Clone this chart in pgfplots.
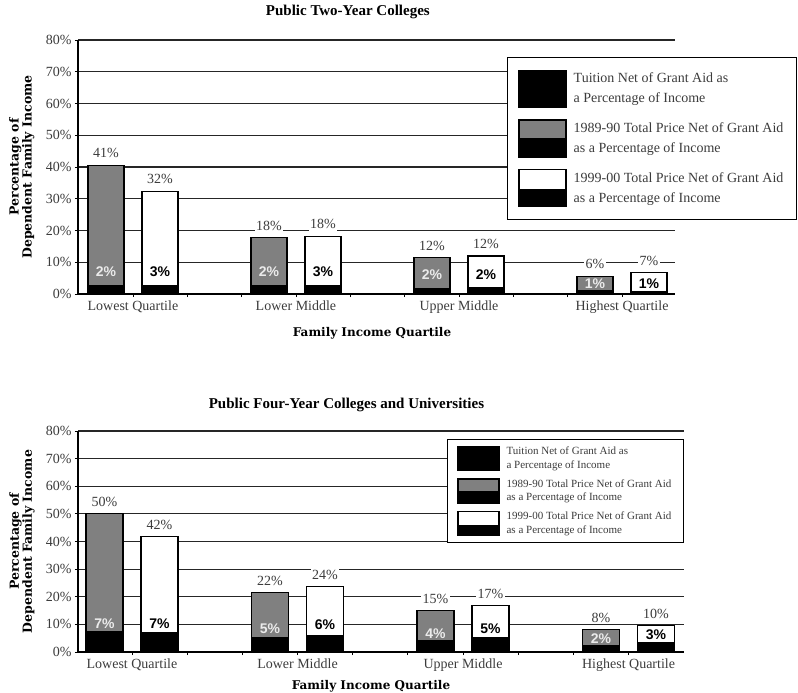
\documentclass[border=0pt]{standalone}
\usepackage{pgfplots}
\pgfplotsset{compat=1.18}
\usepackage{fontspec}
\setmainfont{Liberation Serif}
\newfontfamily\labfont{DejaVu Serif}
\newfontfamily\barfont{Liberation Sans}

\definecolor{barGray}{HTML}{808080}
\definecolor{txtGray}{HTML}{3C3C3C}

\pgfplotsset{
  quartile/.style={
    scale only axis, enlargelimits=false,
    ymin=0, ymax=80, ytick={0,10,...,80},
    yticklabels={0\%,10\%,20\%,30\%,40\%,50\%,60\%,70\%,80\%},
    xtick={0,1,2,3},
    xticklabels={Lowest Quartile,Lower Middle,Upper Middle,Highest Quartile},
    minor xtick={0.3333,0.6667,1.3333,1.6667,2.3333,2.6667},
    axis x line*=bottom, axis y line*=left,
    axis line style={-, line width=1.2pt, black},
    tick align=outside, major tick length=3pt, minor tick length=3pt,
    tick style={black, line width=0.8pt},
    ymajorgrids, major grid style={line width=1.2pt, black!85},
    tick label style={font=\fontsize{14}{16}\selectfont, text=txtGray},
    ylabel={Percentage of\\Dependent Family Income},
    xlabel={Family Income Quartile},
    ylabel style={font=\labfont\bfseries\fontsize{12.5}{13}\selectfont, align=center, anchor=center},
    xlabel style={font=\labfont\bfseries\fontsize{12}{14}\selectfont, anchor=center},
    title style={font=\bfseries\fontsize{15}{17}\selectfont, anchor=center},
    legend cell align=left,
  },
  % #1 = bar width, #2 = bar shift
  total/.style 2 args={ybar, bar width=#1, bar shift=#2, forget plot, draw=black, line width=1.2pt,
    nodes near coords, point meta=explicit symbolic,
    nodes near coords style={anchor=south, xshift=#2, yshift=5pt, fill=white, inner sep=1.5pt,
      font=\fontsize{14}{16}\selectfont, text=txtGray}},
  tuition/.style 2 args={ybar, bar width=#1, bar shift=#2, forget plot, fill=black, draw=black, line width=1.2pt},
  inner/.style={draw=none, forget plot, nodes near coords, point meta=explicit symbolic,
    nodes near coords style={anchor=center, xshift=#1,
      font=\barfont\bfseries\fontsize{14}{16}\selectfont}},
}

\begin{document}
\begin{tikzpicture}
\path[use as bounding box] (0pt,0pt) rectangle (798pt,-693pt);

% Public two-year colleges
\begin{axis}[quartile,
  at={(78pt,-294pt)}, anchor=south west,
  width=597pt, height=254pt,
  xmin=-0.337, xmax=3.325,
  title={Public Two-Year Colleges},
  title style={at={(axis description cs:0.452,1.087)}},
  ylabel style={at={(axis description cs:-0.094,0.5)}},
  xlabel style={at={(axis description cs:0.4925,-0.1535)}},
  legend style={at={(1.2044,0.9331)}, anchor=north east, draw=black, line width=1.2pt,
    fill=white, inner xsep=11pt, inner ysep=12pt, row sep=11.5pt, column sep=5pt,
    align=left, font=\fontsize{14}{20}\selectfont, text=txtGray},
]
\addplot[total={36pt}{-27pt}, fill=barGray]
  coordinates {(0,40.6)[41\%] (1,17.7)[18\%] (2,11.4)[12\%] (3,5.6)[6\%]};
\addplot[tuition={36pt}{-27pt}]
  coordinates {(0,2.6) (1,2.6) (2,1.8) (3,1.0)};
\addplot[total={36pt}{27pt}, fill=white]
  coordinates {(0,32.4)[32\%] (1,18.2)[18\%] (2,12.0)[12\%] (3,6.7)[7\%]};
\addplot[tuition={36pt}{27pt}]
  coordinates {(0,2.8) (1,2.8) (2,1.9) (3,0.7)};
\addplot[inner=-27pt, nodes near coords style={text=white!92!black}]
  coordinates {(0,7)[2\%] (1,7)[2\%] (2,6)[2\%] (3,3.2)[1\%]};
\addplot[inner=27pt, nodes near coords style={text=black}]
  coordinates {(0,7)[3\%] (1,7)[3\%] (2,6)[2\%] (3,3.2)[1\%]};

\addlegendimage{legend image code/.code={
  \fill[black] (0pt,-18.5pt) rectangle (47pt,18.5pt);}}
\addlegendentry{Tuition Net of Grant Aid as\\a Percentage of Income}
\addlegendimage{legend image code/.code={
  \fill[black] (0pt,-18.5pt) rectangle (47pt,1pt);
  \fill[barGray] (0pt,1pt) rectangle (47pt,18.5pt);
  \draw[line width=1.2pt] (0pt,-18.5pt) rectangle (47pt,18.5pt);}}
\addlegendentry{1989-90 Total Price Net of Grant Aid\\as a Percentage of Income}
\addlegendimage{legend image code/.code={
  \fill[black] (0pt,-18.5pt) rectangle (47pt,0pt);
  \fill[white] (0pt,0pt) rectangle (47pt,18.5pt);
  \draw[line width=1.2pt] (0pt,-18.5pt) rectangle (47pt,18.5pt);}}
\addlegendentry{1999-00 Total Price Net of Grant Aid\\as a Percentage of Income}
\end{axis}

% Public four-year colleges and universities
\begin{axis}[quartile,
  at={(78pt,-652pt)}, anchor=south west,
  width=606pt, height=221pt,
  xmin=-0.326, xmax=3.335,
  title={Public Four-Year Colleges and Universities},
  title style={at={(axis description cs:0.443,1.090)}},
  ylabel style={at={(axis description cs:-0.0924,0.5)}},
  xlabel style={at={(axis description cs:0.4835,-0.154)}},
  legend style={at={(1.0,0.9638)}, anchor=north east, draw=black, line width=1.2pt,
    fill=white, inner xsep=10pt, inner ysep=5.5pt, row sep=6pt, column sep=5pt,
    align=left, font=\fontsize{11}{13.3}\selectfont, text=txtGray},
]
\addplot[total={37pt}{-27.5pt}, fill=barGray]
  coordinates {(0,50.2)[50\%] (1,21.6)[22\%] (2,14.9)[15\%] (3,8.2)[8\%]};
\addplot[tuition={37pt}{-27.5pt}]
  coordinates {(0,7.4) (1,5.2) (2,4.1) (3,2.5)};
\addplot[total={37pt}{27.5pt}, fill=white]
  coordinates {(0,41.8)[42\%] (1,23.7)[24\%] (2,16.8)[17\%] (3,9.5)[10\%]};
\addplot[tuition={37pt}{27.5pt}]
  coordinates {(0,7.0) (1,5.9) (2,5.3) (3,3.4)};
\addplot[inner=-27.5pt, nodes near coords style={text=white!92!black}]
  coordinates {(0,10.4)[7\%] (1,8.6)[5\%] (2,6.8)[4\%] (3,5.0)[2\%]};
\addplot[inner=27.5pt, nodes near coords style={text=black}]
  coordinates {(0,10.3)[7\%] (1,10.0)[6\%] (2,8.6)[5\%] (3,6.2)[3\%]};

\addlegendimage{legend image code/.code={
  \fill[black] (0pt,-12pt) rectangle (41pt,12pt);}}
\addlegendentry{Tuition Net of Grant Aid as\\a Percentage of Income}
\addlegendimage{legend image code/.code={
  \fill[black] (0pt,-12pt) rectangle (41pt,1pt);
  \fill[barGray] (0pt,1pt) rectangle (41pt,12pt);
  \draw[line width=1.2pt] (0pt,-12pt) rectangle (41pt,12pt);}}
\addlegendentry{1989-90 Total Price Net of Grant Aid\\as a Percentage of Income}
\addlegendimage{legend image code/.code={
  \fill[black] (0pt,-12pt) rectangle (41pt,-1pt);
  \fill[white] (0pt,-1pt) rectangle (41pt,12pt);
  \draw[line width=1.2pt] (0pt,-12pt) rectangle (41pt,12pt);}}
\addlegendentry{1999-00 Total Price Net of Grant Aid\\as a Percentage of Income}
\end{axis}
\end{tikzpicture}
\end{document}
